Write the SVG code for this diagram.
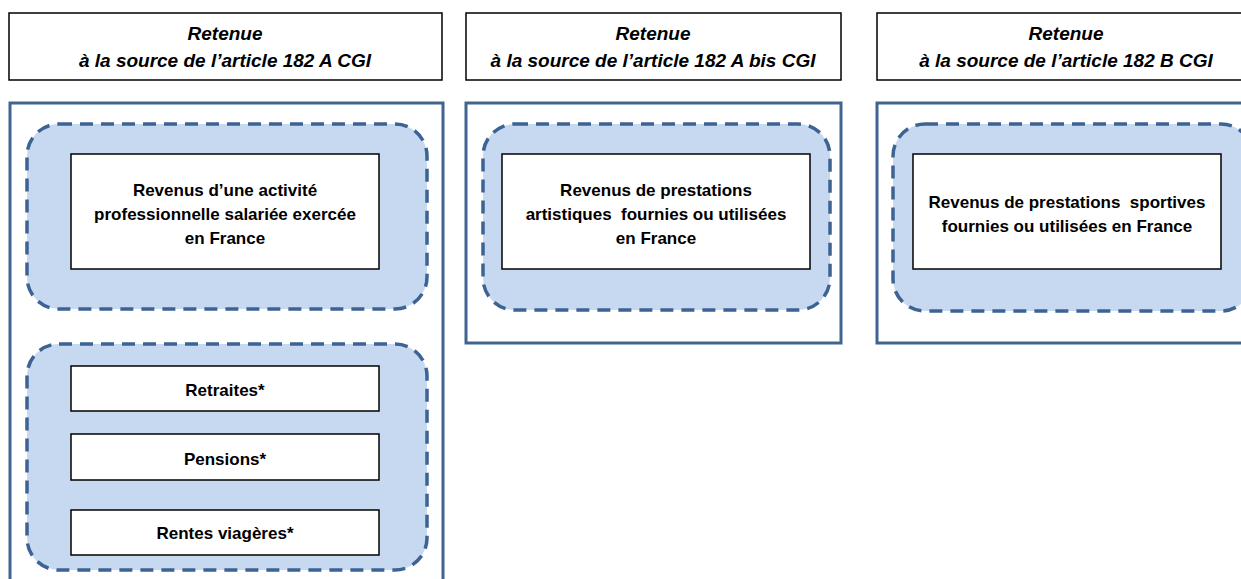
<svg xmlns="http://www.w3.org/2000/svg" width="1241" height="579" viewBox="0 0 1241 579">
  <style>
    .header { fill: #ffffff; stroke: #000000; stroke-width: 1.5; }
    .outer { fill: #ffffff; stroke: #41648f; stroke-width: 3; }
    .group { fill: #c6d9f1; stroke: #3c6393; stroke-width: 3.5; stroke-dasharray: 13 8; }
    .item { fill: #ffffff; stroke: #000000; stroke-width: 1.5; }
    .htext { font-family: "Liberation Sans", Arial, sans-serif; font-style: italic; font-weight: bold; font-size: 19px; fill: #000000; text-anchor: middle; }
    .btext { font-family: "Liberation Sans", Arial, sans-serif; font-weight: bold; font-size: 17px; fill: #000000; text-anchor: middle; }
  </style>

  <!-- Column 1: article 182 A -->
  <g id="header-182A">
    <rect class="header" x="9" y="13" width="433" height="67"/>
    <text class="htext" x="225" y="40">Retenue</text>
    <text class="htext" x="225" y="67">à la source de l’article 182 A CGI</text>
  </g>
  <g id="col-182A">
    <rect class="outer" x="10" y="103" width="433" height="490"/>
  </g>
  <g id="group-salaires">
    <rect class="group" x="27" y="124" width="400" height="185" rx="32"/>
  </g>
  <g id="node-salaires">
    <rect class="item" x="71" y="154" width="308" height="115"/>
    <text class="btext" x="225" y="196">Revenus d’une activité</text>
    <text class="btext" x="225" y="220">professionnelle salariée exercée</text>
    <text class="btext" x="225" y="244">en France</text>
  </g>
  <g id="group-pensions">
    <rect class="group" x="27" y="344" width="400" height="226" rx="32"/>
  </g>
  <g id="node-retraites">
    <rect class="item" x="71" y="366" width="308" height="45"/>
    <text class="btext" x="225" y="396">Retraites*</text>
  </g>
  <g id="node-pensions">
    <rect class="item" x="71" y="434" width="308" height="46"/>
    <text class="btext" x="225" y="465">Pensions*</text>
  </g>
  <g id="node-rentes">
    <rect class="item" x="71" y="510" width="308" height="45"/>
    <text class="btext" x="225" y="539">Rentes viagères*</text>
  </g>

  <!-- Column 2: article 182 A bis -->
  <g id="header-182Abis">
    <rect class="header" x="466" y="13" width="375" height="67"/>
    <text class="htext" x="653" y="40">Retenue</text>
    <text class="htext" x="653" y="67">à la source de l’article 182 A bis CGI</text>
  </g>
  <g id="col-182Abis">
    <rect class="outer" x="466" y="103" width="375" height="240"/>
  </g>
  <g id="group-artistes">
    <rect class="group" x="483" y="124" width="347" height="186" rx="32"/>
  </g>
  <g id="node-artistes">
    <rect class="item" x="502" y="154" width="308" height="115"/>
    <text class="btext" x="656" y="196">Revenus de prestations</text>
    <text class="btext" x="656" y="220" xml:space="preserve">artistiques  fournies ou utilisées</text>
    <text class="btext" x="656" y="244">en France</text>
  </g>

  <!-- Column 3: article 182 B -->
  <g id="header-182B">
    <rect class="header" x="877" y="13" width="380" height="67"/>
    <text class="htext" x="1066" y="40">Retenue</text>
    <text class="htext" x="1066" y="67">à la source de l’article 182 B CGI</text>
  </g>
  <g id="col-182B">
    <rect class="outer" x="877" y="103" width="380" height="240"/>
  </g>
  <g id="group-sportifs">
    <rect class="group" x="893" y="124" width="360" height="187" rx="32"/>
  </g>
  <g id="node-sportifs">
    <rect class="item" x="913" y="154" width="308" height="115"/>
    <text class="btext" x="1067" y="208" xml:space="preserve">Revenus de prestations  sportives</text>
    <text class="btext" x="1067" y="232">fournies ou utilisées en France</text>
  </g>

  <g id="connectors"/>
</svg>
